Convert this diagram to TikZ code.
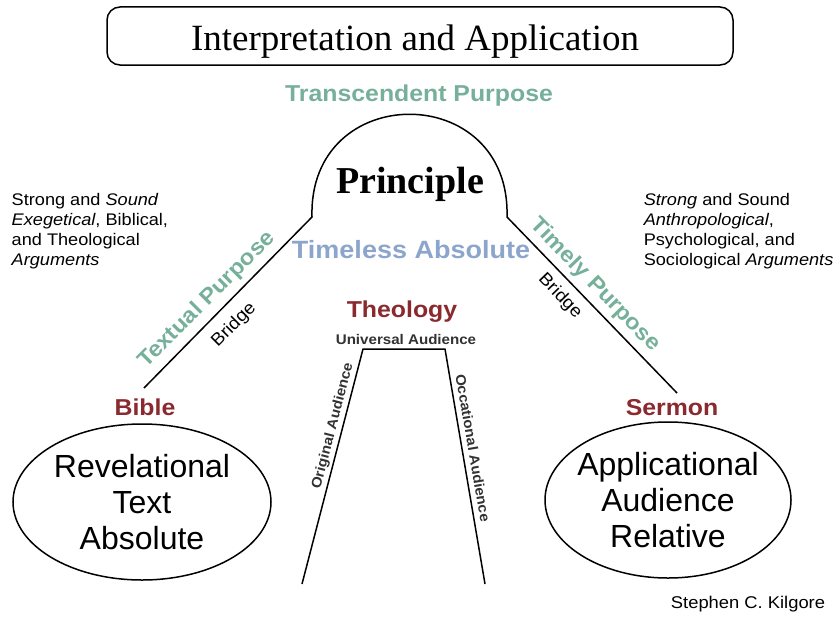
\documentclass[tikz,border=0pt]{standalone}
\usepackage{fontspec}
\setmainfont{Liberation Serif}
\setsansfont{Liberation Sans}
% slightly widened sans for the labels
\newfontfamily\labelfont[FakeStretch=1.08]{Liberation Sans}
\usetikzlibrary{positioning}
\definecolor{purposeteal}{RGB}{118,176,154}
\definecolor{absoluteblue}{RGB}{140,165,204}
\definecolor{keyred}{RGB}{138,42,46}
\definecolor{audiencegray}{RGB}{50,50,50}
\tikzset{
	heading/.style={%
		inner sep=0pt,
		font=\labelfont\bfseries\fontsize{#1}{#1}\selectfont
	},
	heading/.default=23,
	bridgetext/.style={inner sep=0pt, font=\labelfont\fontsize{17.5}{17.5}\selectfont},
	audience/.style={inner sep=0pt, text=audiencegray,
		font=\labelfont\bfseries\fontsize{14}{14}\selectfont},
	argument/.style={inner sep=0pt, align=left, anchor=north west,
		font=\labelfont\fontsize{16.8}{20}\selectfont},
	bigword/.style={inner sep=0pt, align=center,
		font=\sffamily\fontsize{32}{36}\selectfont}
}

\begin{document}
\begin{tikzpicture}[x=1pt,y=-1pt,line width=1.5pt]
	\useasboundingbox (0,0) rectangle (834,618);

	% Title box
	\node[draw, rounded corners=13pt, minimum width=626pt, minimum height=58pt] (titlebox) at (420,36) {};
	\node[anchor=base, inner sep=0pt, font=\fontsize{37}{40}\selectfont] (title) at (415,50) {Interpretation and Application};

	% Bridge lines and the principle arch
	\coordinate (bibleend) at (144,388);
	\coordinate (archleft) at (312,217);
	\coordinate (archright) at (507,217);
	\coordinate (sermonend) at (677,393);
	\draw[line join=round] (bibleend) -- (archleft) .. controls (308,80) and (511,80) .. (archright) -- (sermonend);

	% Audience trapezoid (open at the bottom)
	\coordinate (origbase) at (302,584);
	\coordinate (univleft) at (363,349);
	\coordinate (univright) at (445,349);
	\coordinate (occbase) at (485,584);
	\draw[line join=round] (origbase) -- (univleft) -- (univright) -- (occbase);

	% Ellipses
	\draw (142,502) ellipse [x radius=129pt, y radius=78pt];
	\draw (668,500) ellipse [x radius=123pt, y radius=78pt];

	% Labels around the arch
	\node[heading, text=purposeteal, anchor=base] (transcendent) at (419,101.5) {Transcendent Purpose};
	\node[anchor=base, inner sep=0pt, font=\bfseries\fontsize{38}{38}\selectfont] (principle) at (410,193) {Principle};
	\node[heading=25, text=absoluteblue, anchor=base] (timeless) at (411,258) {Timeless Absolute};

	% Labels along the bridges
	\node[heading=22, text=purposeteal, rotate=45] (textual) at (207,300) {Textual Purpose};
	\node[bridgetext, rotate=45] (leftbridge) at (234,325) {Bridge};
	\node[heading=22, text=purposeteal, rotate=-46] (timely) at (595,285) {Timely Purpose};
	\node[bridgetext, rotate=-46] (rightbridge) at (560,296) {Bridge};

	\node[heading, text=keyred, anchor=base] (bible) at (145,415) {Bible};
	\node[heading, text=keyred, anchor=base] (sermon) at (672,415) {Sermon};

	% Theology and audiences
	\node[heading, text=keyred, anchor=base] (theology) at (402,317.5) {Theology};
	\node[audience, anchor=base] (universal) at (406,344) {Universal Audience};
	\node[audience, rotate=75.4] (original) at (333,426) {Original Audience};
	\node[audience, rotate=-80.3] (occational) at (473,448) {Occational Audience};

	% Arguments on each side
	\node[argument] (leftargs) at (11,193) {Strong and \textit{Sound}\\\textit{Exegetical}, Biblical,\\and Theological\\\textit{Arguments}};
	\node[argument] (rightargs) at (643,193) {\textit{Strong} and Sound\\\textit{Anthropological},\\Psychological, and\\Sociological \textit{Arguments}};

	% Text in the ellipses
	\node[bigword] (revelational) at (142,502) {Revelational\\Text\\Absolute};
	\node[bigword] (applicational) at (668,500) {Applicational\\Audience\\Relative};

	\node[anchor=base, inner sep=0pt, font=\labelfont\fontsize{17}{17}\selectfont] (signature) at (748,608) {Stephen C. Kilgore};
\end{tikzpicture}
\end{document}
